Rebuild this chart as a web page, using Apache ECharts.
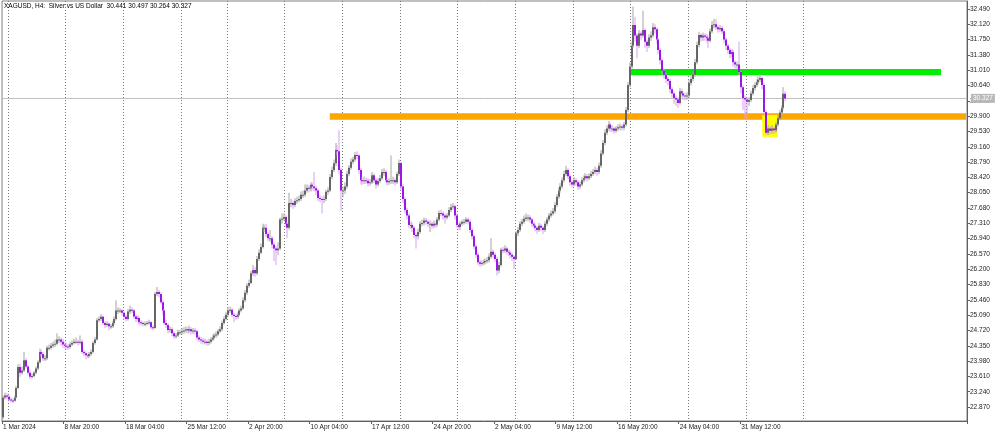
<!DOCTYPE html>
<html><head><meta charset="utf-8">
<script src="https://cdn.jsdelivr.net/npm/echarts@6/dist/echarts.min.js"></script>
<style>html,body{margin:0;padding:0;background:#fff}#c{width:1000px;height:434px}</style>
</head><body><div id="c"></div>
<script>
// ---------- DATA ----------
const symbolTitle = 'XAGUSD, H4:  Silver vs US Dollar  30.441 30.497 30.264 30.327';
const tradingDays = [
'2024-03-01','2024-03-04','2024-03-05','2024-03-06','2024-03-07','2024-03-08',
'2024-03-11','2024-03-12','2024-03-13','2024-03-14','2024-03-15',
'2024-03-18','2024-03-19','2024-03-20','2024-03-21','2024-03-22',
'2024-03-25','2024-03-26','2024-03-27','2024-03-28',
'2024-04-01','2024-04-02','2024-04-03','2024-04-04','2024-04-05',
'2024-04-08','2024-04-09','2024-04-10','2024-04-11','2024-04-12',
'2024-04-15','2024-04-16','2024-04-17','2024-04-18','2024-04-19',
'2024-04-22','2024-04-23','2024-04-24','2024-04-25','2024-04-26',
'2024-04-29','2024-04-30','2024-05-01','2024-05-02','2024-05-03',
'2024-05-06','2024-05-07','2024-05-08','2024-05-09','2024-05-10',
'2024-05-13','2024-05-14','2024-05-15','2024-05-16','2024-05-17',
'2024-05-20','2024-05-21','2024-05-22','2024-05-23','2024-05-24',
'2024-05-27','2024-05-28','2024-05-29','2024-05-30','2024-05-31',
'2024-06-03','2024-06-04','2024-06-05','2024-06-06','2024-06-07',
'2024-06-10','2024-06-11','2024-06-12','2024-06-13','2024-06-14',
'2024-06-17','2024-06-18','2024-06-19','2024-06-20','2024-06-21',
'2024-06-24','2024-06-25','2024-06-26','2024-06-27','2024-06-28'];
const barHours = ['00:00','04:00','08:00','12:00','16:00','20:00'];
const firstBarHour = '12:00';
const axisBarCount = 502;      // bars spanned by the time axis (data + empty right margin)
const labelEveryBars = 32;
const futureSeparatorBars = 12; // week separators drawn this far past the last bar
const monthNames = ['Jan','Feb','Mar','Apr','May','Jun','Jul','Aug','Sep','Oct','Nov','Dec'];

const firstOpen = 22.62;
const closes = [
23.10,23.15,23.12,23.05,23.03,23.02,23.10,23.33,23.84,23.70,23.75,24.00,23.85,23.70,23.60,23.62,23.70,23.80,23.95,24.20,
24.15,24.05,24.05,24.30,24.30,24.35,24.38,24.40,24.50,24.50,24.45,24.38,24.35,24.33,24.32,24.38,24.42,24.45,24.45,24.43,
24.45,24.20,24.17,24.12,24.10,24.15,24.20,24.42,24.50,24.97,25.00,25.05,24.90,24.85,24.88,24.82,24.82,24.90,25.00,25.20,
25.20,25.20,25.15,25.05,25.00,25.18,25.22,25.20,25.06,25.00,25.02,24.92,24.90,24.88,24.88,24.90,24.92,24.80,24.78,25.60,
25.65,25.60,25.40,25.20,24.90,24.85,24.73,24.75,24.65,24.58,24.60,24.68,24.68,24.70,24.72,24.75,24.72,24.75,24.70,24.72,
24.70,24.55,24.50,24.48,24.45,24.45,24.42,24.45,24.50,24.55,24.60,24.62,24.70,24.75,24.90,25.00,25.10,25.20,25.22,25.10,
25.07,25.05,25.10,25.20,25.25,25.45,25.63,25.80,25.87,26.10,26.18,26.10,26.45,26.60,26.74,27.20,27.20,27.05,26.95,26.95,
26.80,26.70,26.66,26.70,27.40,27.42,27.46,27.30,27.20,27.80,27.80,27.75,27.85,27.87,27.90,28.00,28.00,28.10,28.17,28.15,
28.24,28.20,28.16,28.10,27.92,27.90,27.88,27.90,28.07,28.10,28.43,28.60,28.76,29.08,29.05,28.60,28.10,28.10,28.20,28.50,
28.65,28.80,28.85,28.96,28.95,28.60,28.35,28.33,28.35,28.34,28.28,28.30,28.47,28.35,28.25,28.33,28.40,28.55,28.55,28.35,
28.30,28.33,28.35,28.35,28.30,28.50,28.77,28.20,27.90,27.63,27.50,27.27,27.27,27.20,27.03,27.00,27.10,27.30,27.32,27.38,
27.35,27.30,27.30,27.25,27.30,27.28,27.40,27.56,27.55,27.50,27.45,27.50,27.63,27.70,27.72,27.50,27.27,27.22,27.30,27.34,
27.35,27.40,27.35,27.15,27.00,26.75,26.55,26.37,26.33,26.35,26.38,26.40,26.42,26.50,26.62,26.55,26.45,26.17,26.30,26.67,
26.65,26.70,26.62,26.60,26.55,26.50,26.45,27.07,27.15,27.30,27.35,27.42,27.45,27.45,27.40,27.30,27.25,27.20,27.15,27.25,
27.20,27.15,27.30,27.40,27.50,27.55,27.60,27.75,27.95,28.10,28.20,28.35,28.50,28.60,28.45,28.30,28.25,28.35,28.30,28.20,
28.25,28.35,28.40,28.45,28.40,28.45,28.50,28.55,28.60,28.55,28.70,29.00,29.25,29.50,29.60,29.70,29.60,29.60,29.55,29.60,
29.63,29.65,29.62,29.70,30.05,30.65,31.10,31.60,32.10,31.85,31.60,31.90,31.85,31.98,31.70,31.60,31.80,31.85,32.05,32.00,
31.75,31.50,31.25,31.00,30.90,30.80,30.75,30.55,30.45,30.34,30.30,30.22,30.50,30.45,30.40,30.38,30.40,30.70,30.80,30.90,
31.20,31.62,31.86,31.80,31.85,31.82,31.78,31.72,31.95,32.10,32.12,32.05,32.00,32.03,31.95,31.75,31.60,31.50,31.40,31.45,
31.20,31.15,31.15,30.97,30.60,30.34,30.30,30.25,30.29,30.45,30.58,30.65,30.72,30.78,30.82,30.65,30.00,29.50,29.60,29.55,
29.60,29.56,29.70,29.85,29.99,30.10,30.441,30.327];
const highs = [
23.15,23.22,23.20,23.16,23.10,23.08,23.14,23.38,23.90,23.92,23.85,24.20,24.05,23.88,23.75,23.68,23.74,23.85,24.00,24.28,
24.25,24.20,24.12,24.35,24.38,24.42,24.45,24.50,24.65,24.58,24.55,24.52,24.45,24.42,24.40,24.44,24.48,24.52,24.55,24.50,
24.60,24.50,24.25,24.22,24.18,24.20,24.26,24.46,24.56,25.02,25.06,25.12,25.08,24.95,24.94,24.92,24.88,24.95,25.06,25.45,
25.28,25.26,25.24,25.18,25.10,25.24,25.32,25.28,25.24,25.10,25.08,25.05,24.96,24.94,24.94,24.95,24.98,24.95,24.84,25.65,
25.77,25.70,25.64,25.45,25.24,24.98,24.90,24.82,24.80,24.70,24.66,24.74,24.74,24.78,24.80,24.82,24.80,24.84,24.80,24.78,
24.78,24.74,24.60,24.56,24.54,24.52,24.50,24.52,24.56,24.62,24.66,24.70,24.76,24.82,24.96,25.06,25.16,25.28,25.30,25.26,
25.15,25.12,25.16,25.26,25.32,25.52,25.70,25.86,25.95,26.16,26.30,26.25,26.52,26.68,26.82,27.30,27.28,27.30,27.10,27.15,
27.00,26.85,26.76,26.85,27.45,27.55,27.55,27.50,27.35,28.05,27.90,27.86,27.92,27.95,27.98,28.08,28.10,28.25,28.25,28.24,
28.30,28.30,28.55,28.22,28.15,28.00,27.96,27.98,28.12,28.18,28.50,28.68,28.85,29.25,29.20,29.56,28.65,28.20,28.30,28.58,
28.72,28.88,28.92,29.03,29.05,28.98,28.65,28.42,28.44,28.42,28.40,28.38,28.55,28.52,28.40,28.40,28.48,28.62,28.64,28.60,
28.40,28.40,28.95,28.44,28.40,28.56,28.85,28.80,28.25,27.95,27.68,27.55,27.35,27.32,27.25,27.08,27.18,27.36,27.40,27.45,
27.44,27.40,27.38,27.35,27.38,27.36,27.46,27.62,27.64,27.60,27.54,27.56,27.70,27.78,27.80,27.76,27.55,27.32,27.36,27.40,
27.42,27.46,27.44,27.40,27.20,27.05,26.80,26.60,26.42,26.42,26.44,26.46,26.50,26.58,26.95,26.68,26.60,26.50,26.38,26.72,
26.74,26.78,26.74,26.68,26.64,26.60,26.54,27.12,27.22,27.36,27.42,27.50,27.55,27.52,27.50,27.44,27.34,27.30,27.24,27.32,
27.30,27.24,27.36,27.46,27.56,27.62,27.68,27.82,28.02,28.18,28.28,28.42,28.58,28.70,28.64,28.50,28.35,28.42,28.40,28.35,
28.32,28.42,28.47,28.52,28.50,28.52,28.58,28.62,28.68,28.65,28.78,29.08,29.32,29.58,29.68,29.78,29.74,29.68,29.64,29.66,
29.70,29.72,29.70,29.76,30.12,30.72,31.20,31.70,32.55,32.30,31.90,31.98,31.95,32.45,32.02,31.75,31.88,31.95,32.15,32.12,
32.04,31.80,31.55,31.30,31.05,30.95,30.85,30.80,30.60,30.50,30.40,30.35,30.58,30.56,30.50,30.46,30.48,30.78,30.88,30.98,
31.28,31.70,31.94,31.90,31.92,31.90,31.88,31.85,32.02,32.20,32.25,32.25,32.10,32.10,32.08,32.00,31.80,31.65,31.55,31.52,
31.50,31.25,31.22,31.70,31.00,30.65,30.40,30.35,30.36,30.52,30.65,30.72,30.80,30.86,30.92,30.86,30.70,30.05,29.68,29.66,
29.68,29.65,29.76,29.92,30.05,30.16,30.60,30.497];
const lows = [
22.58,23.05,23.06,23.00,22.98,22.97,23.00,23.08,23.30,23.60,23.65,23.72,23.80,23.65,23.55,23.56,23.58,23.66,23.76,23.92,
24.08,23.98,23.98,24.00,24.24,24.26,24.30,24.32,24.36,24.42,24.35,24.30,24.28,24.26,24.25,24.28,24.34,24.38,24.40,24.36,
24.38,24.15,24.10,24.02,24.04,24.06,24.10,24.16,24.38,24.48,24.92,24.95,24.85,24.78,24.80,24.72,24.76,24.78,24.86,24.96,
25.12,25.14,25.08,24.98,24.94,24.96,25.12,25.14,25.00,24.92,24.94,24.85,24.84,24.82,24.82,24.84,24.86,24.75,24.72,24.76,
25.55,25.52,25.35,25.10,24.85,24.78,24.65,24.66,24.58,24.52,24.52,24.56,24.62,24.62,24.64,24.66,24.64,24.66,24.62,24.64,
24.62,24.48,24.44,24.40,24.38,24.38,24.35,24.36,24.40,24.46,24.50,24.54,24.58,24.66,24.70,24.86,24.96,25.06,25.14,25.04,
24.92,24.98,25.00,25.06,25.16,25.22,25.40,25.58,25.75,25.84,26.04,26.02,26.06,26.40,26.56,26.70,27.10,26.98,26.88,26.86,
26.70,26.40,26.30,26.55,26.66,27.30,27.36,27.22,26.95,27.15,27.70,27.66,27.70,27.78,27.82,27.85,27.92,27.95,28.05,28.06,
28.08,28.10,28.08,28.00,27.85,27.82,27.55,27.80,27.85,28.00,28.06,28.38,28.55,28.70,28.95,28.50,27.60,27.95,28.02,28.15,
28.45,28.60,28.74,28.80,28.86,28.50,28.25,28.24,28.26,28.26,28.20,28.22,28.26,28.28,28.15,28.20,28.28,28.36,28.46,28.28,
28.22,28.24,28.26,28.26,28.22,28.26,28.45,28.10,27.80,27.55,27.40,27.20,27.18,27.10,26.95,26.70,26.92,27.05,27.24,27.26,
27.28,27.22,27.10,27.18,27.20,27.20,27.24,27.36,27.48,27.40,27.30,27.40,27.46,27.58,27.64,27.40,27.20,27.15,27.16,27.25,
27.28,27.30,27.28,27.08,26.92,26.68,26.48,26.30,26.26,26.28,26.30,26.32,26.34,26.36,26.46,26.48,26.38,26.05,26.10,26.26,
26.58,26.60,26.55,26.52,26.46,26.40,26.20,26.42,27.00,27.10,27.24,27.30,27.36,27.36,27.32,27.22,27.18,27.12,27.06,27.10,
27.12,27.05,27.10,27.25,27.35,27.45,27.50,27.55,27.70,27.90,28.05,28.15,28.30,28.45,28.38,28.22,28.18,28.20,28.22,28.12,
28.14,28.20,28.30,28.35,28.32,28.35,28.40,28.45,28.50,28.46,28.50,28.65,28.95,29.20,29.44,29.55,29.52,29.52,29.48,29.50,
29.54,29.56,29.55,29.56,29.65,30.00,30.60,31.05,31.55,31.70,31.30,31.55,31.75,31.80,31.55,31.45,31.55,31.72,31.80,31.90,
31.65,31.40,31.15,30.90,30.80,30.70,30.65,30.45,30.35,30.20,30.15,30.10,30.18,30.36,30.30,30.28,30.30,30.35,30.64,30.74,
30.85,31.15,31.56,31.70,31.72,31.72,31.68,31.55,31.68,31.90,32.02,31.98,31.92,31.94,31.88,31.66,31.50,31.40,31.30,31.32,
31.10,31.05,31.05,30.90,30.45,30.05,29.85,29.80,30.15,30.24,30.40,30.52,30.60,30.66,30.72,30.55,29.90,29.45,29.44,29.46,
29.48,29.47,29.50,29.65,29.80,29.94,30.05,30.264];

const priceTicks = [22.870,23.240,23.610,23.980,24.350,24.720,25.090,25.460,25.830,26.200,26.570,26.940,27.310,27.680,28.050,28.420,28.790,29.160,29.530,29.900,30.270,30.640,31.010,31.380,31.750,32.120,32.490];
const priceRange = [22.532, 32.683];
const lastPrice = 30.327;
// drawn zones: [first bar, last bar, lower price, upper price]
const orangeZone = [170, 501, 29.81, 29.97];
const greenZone  = [326, 488, 30.89, 31.04];
const yellowBox  = [395, 403, 29.40, 29.93];

// ---------- BUILD ----------
function fmtDay(iso){ const d = new Date(iso+'T00:00:00Z'); return d.getUTCDate()+' '+monthNames[d.getUTCMonth()]; }
const categories = [], isWeekStart = [];
outer: for (let d=0; d<tradingDays.length; d++){
  const dt = new Date(tradingDays[d]+'T00:00:00Z');
  for (let h=0; h<barHours.length; h++){
    if (d===0 && barHours.indexOf(firstBarHour) > h) continue;
    if (categories.length >= axisBarCount) break outer;
    categories.push(fmtDay(tradingDays[d])+' '+barHours[h]);
    isWeekStart.push(dt.getUTCDay()===1 && h===0);
  }
}
const nBars = closes.length;
const candles = closes.map((c,i)=>[i, i===0?firstOpen:closes[i-1], c, lows[i], highs[i]]);

const UP_BODY='#666666', UP_WICK='#a4a4a4', DN_BODY='#9a18e6', DN_WICK='#d6a0f2';

const chart = echarts.init(document.getElementById('c'), null, {renderer:'canvas'});
const FONT = 'Liberation Sans';
chart.setOption({
  animation:false,
  backgroundColor:'#ffffff',
  grid:{left:1, right:33, top:1, bottom:13, show:true, borderColor:'#808080', borderWidth:1, backgroundColor:'transparent'},
  graphic:[{type:'text', left:4, top:3, style:{text:symbolTitle, fontSize:6.5, fontFamily:FONT, fill:'#000'}, z:100}],
  xAxis:{
    type:'category', data:categories, boundaryGap:true,
    axisLine:{show:true, lineStyle:{color:'#606060'}},
    axisTick:{show:true, length:3, interval:(i)=> i%labelEveryBars===0 && i<nBars, lineStyle:{color:'#606060'}},
    axisLabel:{interval:(i)=> i%labelEveryBars===0 && i<nBars, fontSize:6.5, fontFamily:FONT, color:'#222', align:'left', margin:3,
      formatter:(v,i)=> i===0 ? '1 Mar 2024' : v},
    splitLine:{show:true, interval:(i)=> isWeekStart[i]===true && i<nBars+futureSeparatorBars, lineStyle:{color:'#777', type:[1,2], width:1}}
  },
  yAxis:{
    type:'value', position:'right', min:priceRange[0], max:priceRange[1], scale:true,
    axisLine:{show:true, lineStyle:{color:'#606060'}},
    axisTick:{show:true, length:3, customValues:priceTicks, lineStyle:{color:'#606060'}},
    axisLabel:{customValues:priceTicks, fontSize:6.5, fontFamily:FONT, color:'#222', margin:3, formatter:(v)=>v.toFixed(3)},
    splitLine:{show:false}
  },
  series:[
    {type:'line', data:[], silent:true, z:1,
     markArea:{silent:true, data:[
       [{xAxis:orangeZone[0], yAxis:orangeZone[3], itemStyle:{color:'#ffa500', opacity:1}}, {xAxis:orangeZone[1], yAxis:orangeZone[2]}],
       [{xAxis:greenZone[0], yAxis:greenZone[3], itemStyle:{color:'#00ee00', opacity:1}}, {xAxis:greenZone[1], yAxis:greenZone[2]}],
       [{xAxis:yellowBox[0], yAxis:yellowBox[3], itemStyle:{color:'#ffff00', opacity:1}}, {xAxis:yellowBox[1], yAxis:yellowBox[2]}]
     ]},
     markLine:{silent:true, symbol:'none', lineStyle:{color:'#c0c0c0', type:'solid', width:1},
       label:{show:true, position:'end', formatter:lastPrice.toFixed(3), fontSize:6.5, fontFamily:FONT, color:'#fff', backgroundColor:'#b8b8b8', padding:[1,2,1,2], distance:4},
       data:[{yAxis:lastPrice}]}
    },
    {type:'custom', z:5, data:candles, encode:{x:0, y:[1,2,3,4]},
     renderItem:(params, api)=>{
       const i=api.value(0), o=api.value(1), c=api.value(2), l=api.value(3), h=api.value(4);
       const pO=api.coord([i,o]), pC=api.coord([i,c]), pL=api.coord([i,l]), pH=api.coord([i,h]);
       const xl=Math.round(pO[0]-1);
       const up = c>=o;
       const top=Math.min(pO[1],pC[1]), bot=Math.max(pO[1],pC[1]);
       const bh=Math.max(1, bot-top);
       return {type:'group', children:[
         {type:'line', shape:{x1:xl+1, y1:pH[1], x2:xl+1, y2:pL[1]}, style:{stroke: up?UP_WICK:DN_WICK, lineWidth:1}},
         {type:'rect', shape:{x:xl, y:top, width:2, height:bh}, style:{fill: up?UP_BODY:DN_BODY}}
       ]};
     }}
  ]
});
</script></body></html>
